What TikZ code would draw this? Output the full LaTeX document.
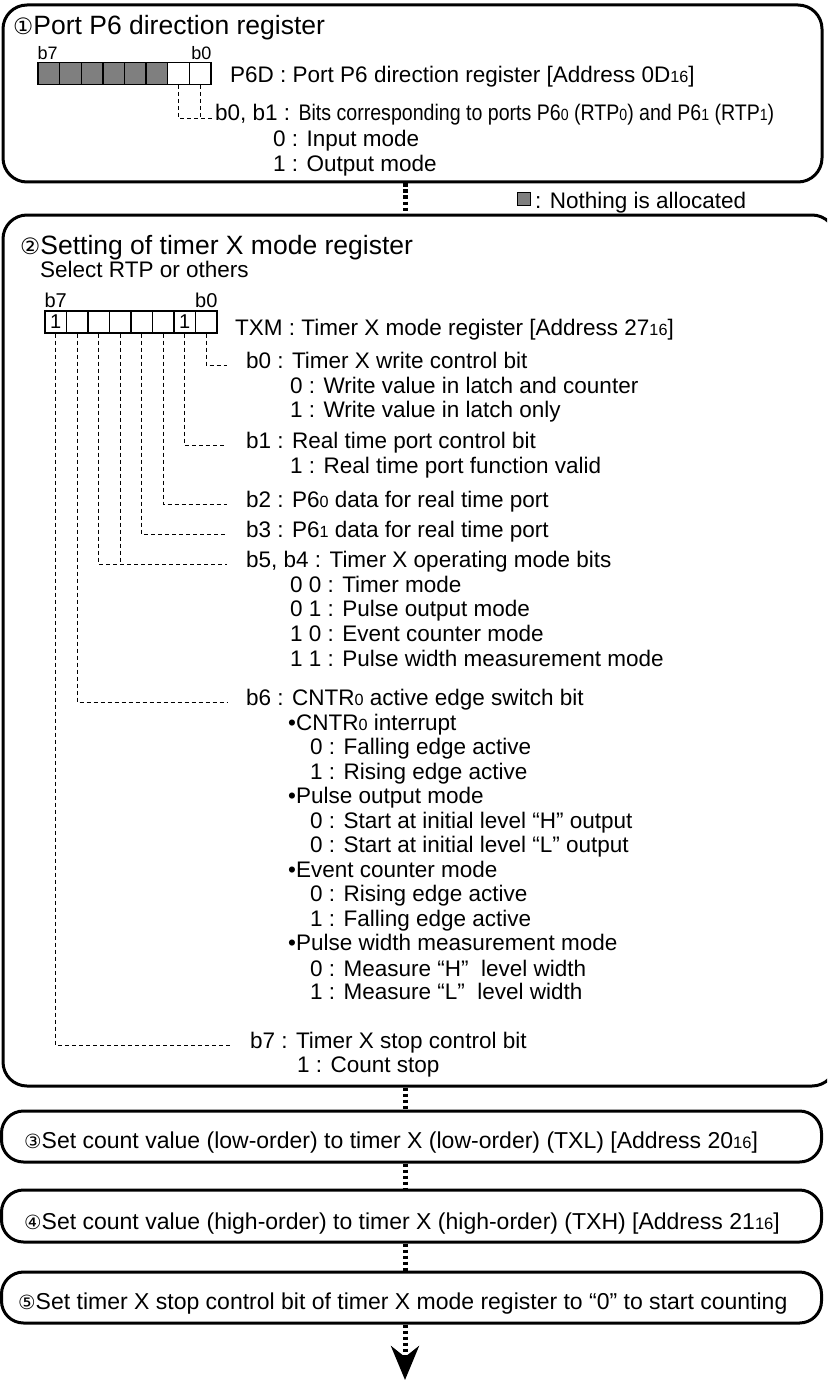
\documentclass[tikz,border=0pt]{standalone}
\usepackage{fontspec}
\usepackage{graphicx}
\setmainfont{Liberation Sans}
\newfontfamily\circfont{DejaVu Sans}
\usetikzlibrary{arrows.meta,positioning}
\definecolor{regGrey}{HTML}{7F7F7F}
\newcommand{\lo}[1]{{\edef\cursz{\the\dimexpr0.72\fontdimen6\font\relax}\fontsize{\cursz}{\cursz}\selectfont #1}}
\newcommand{\cnum}[1]{{\edef\cursz{\the\dimexpr0.85\fontdimen6\font\relax}\circfont\fontsize{\cursz}{\cursz}\selectfont #1}}

\begin{document}
\begin{tikzpicture}[x=1pt,y=-1pt,
  frame/.style={draw,line width=3pt,rounded corners=24pt,inner sep=0pt},
  stepbox/.style={draw,line width=3pt,rounded corners=22pt,minimum width=820pt,
            minimum height=51pt,inner sep=0pt},
  cell/.style={draw,line width=1.3pt,minimum width=21.6pt,minimum height=21.5pt,
            inner sep=0pt,font=\fontsize{20}{20}\selectfont},
  nil/.style={cell,fill=regGrey},
  txt/.style={anchor=base west,inner sep=0pt,font=\fontsize{22.5}{24}\selectfont},
  ttl/.style={anchor=base west,inner sep=0pt,font=\fontsize{26.5}{30}\selectfont},
  steptxt/.style={txt,font=\fontsize{23}{26}\selectfont},
  bitlbl/.style={inner sep=0pt,font=\fontsize{18}{18}\selectfont},
  lead/.style={line width=0.9pt,dash pattern=on 4pt off 3pt},
  flow/.style={line width=5pt,dash pattern=on 3.5pt off 2.5pt}]
\useasboundingbox (0,0) rectangle (827,1383);
\clip (0,0) rectangle (827,1383);
\node[frame,minimum width=819pt,minimum height=177pt] (box1) at (412.5,93.5) {};
\node[frame,minimum width=833pt,minimum height=871pt] (box2) at (419.5,650.5) {};
\node[stepbox] (box3) at (411.5,1136.5) {};
\node[stepbox,minimum height=52pt] (box4) at (411.5,1216) {};
\node[stepbox] (box5) at (411.5,1297.5) {};
\coordinate (axis) at (405,0);
\coordinate (tip) at (405,1380);
\draw[flow] (box1.south -| axis) -- (box2.north -| axis);
\draw[flow] (box2.south -| axis) -- (box3.north -| axis);
\draw[flow] (box3.south -| axis) -- (box4.north -| axis);
\draw[flow] (box4.south -| axis) -- (box5.north -| axis);
\draw[flow,-{Stealth[length=34pt,width=28pt,inset=11pt]}] (box5.south -| axis) -- (tip);

\node[draw,line width=1pt,fill=regGrey,minimum size=13pt,inner sep=0pt] (nilkey) at (524,199) {};
\node[txt] (nilnote) at (535,208) {: Nothing is allocated};

\node[ttl] (t1) at (13,35) {\cnum{①}Port P6 direction register};
\foreach \k/\s in {7/nil,6/nil,5/nil,4/nil,3/nil,2/nil,1/cell,0/cell}
  \node[\s] (pd\k) at ({38+21.625*(7.5-\k)},73.5) {};
\node[bitlbl,anchor=base west] (pdhi) at ([yshift=3pt]pd7.north west) {b7};
\node[bitlbl,anchor=base east] (pdlo) at ([yshift=3pt]pd0.north east) {b0};
\node[txt] (pdname) at (230,83) {P6D : Port P6 direction register [Address 0D\lo{16}]};
\node[txt] (pdbits) at (215,121) {b0, b1 : \scalebox{0.87}[1]{Bits corresponding to ports P6\lo{0} (RTP\lo{0}) and P6\lo{1} (RTP\lo{1})}};
\node[txt] (pdin) at (273,147) {0 : Input mode};
\node[txt] (pdout) at (273,172) {1 : Output mode};
\draw[lead] (pd1.south) |- ([xshift=-3pt]pdbits.mid west);
\draw[lead] (pd0.south) -- (pd0.south |- pdbits.mid west);

\node[ttl] (t2) at (20,254) {\cnum{②}Setting of timer X mode register};
\node[txt] (t2sub) at (40,277) {Select RTP or others};
\foreach \k/\v in {7/1,6/,5/,4/,3/,2/,1/1,0/}
  \node[cell,minimum width=21.5pt,minimum height=22pt] (xm\k) at ({45+21.5*(7.5-\k)},322) {\v};
\node[bitlbl,anchor=base west,font=\fontsize{20}{20}\selectfont] (xmhi) at ([yshift=3pt]xm7.north west) {b7};
\node[bitlbl,anchor=base east,font=\fontsize{20}{20}\selectfont] (xmlo) at ([yshift=3pt]xm0.north east) {b0};
\node[txt] (xmname) at (235,335) {TXM : Timer X mode register [Address 27\lo{16}]};
\node[txt] (xb0) at (246,368) {b0 : Timer X write control bit};
\node[txt] (xb0a) at (290,393) {0 : Write value in latch and counter};
\node[txt] (xb0b) at (290,417) {1 : Write value in latch only};
\node[txt] (xb1) at (246,448) {b1 : Real time port control bit};
\node[txt] (xb1a) at (290,473) {1 : Real time port function valid};
\node[txt] (xb2) at (246,507) {b2 : P6\lo{0} data for real time port};
\node[txt] (xb3) at (246,537) {b3 : P6\lo{1} data for real time port};
\node[txt] (xb54) at (246,567) {b5, b4 : Timer X operating mode bits};
\node[txt] (xb54a) at (290,592) {0 0 : Timer mode};
\node[txt] (xb54b) at (290,616) {0 1 : Pulse output mode};
\node[txt] (xb54c) at (290,641) {1 0 : Event counter mode};
\node[txt] (xb54d) at (290,666) {1 1 : Pulse width measurement mode};
\node[txt] (xb6) at (246,705) {b6 : CNTR\lo{0} active edge switch bit};
\node[txt] (xb6a) at (288,730) {\textbullet CNTR\lo{0} interrupt};
\node[txt] (xb6b) at (310,754) {0 : Falling edge active};
\node[txt] (xb6c) at (310,779) {1 : Rising edge active};
\node[txt] (xb6d) at (288,803) {\textbullet Pulse output mode};
\node[txt] (xb6e) at (310,828) {0 : Start at initial level “H” output};
\node[txt] (xb6f) at (310,852) {0 : Start at initial level “L” output};
\node[txt] (xb6g) at (288,877) {\textbullet Event counter mode};
\node[txt] (xb6h) at (310,901) {0 : Rising edge active};
\node[txt] (xb6i) at (310,926) {1 : Falling edge active};
\node[txt] (xb6j) at (288,950) {\textbullet Pulse width measurement mode};
\node[txt] (xb6k) at (310,976) {0 : Measure “H”\ \ level width};
\node[txt] (xb6l) at (310,999) {1 : Measure “L”\ \ level width};
\node[txt] (xb7) at (250,1048) {b7 : Timer X stop control bit};
\node[txt] (xb7a) at (297,1072) {1 : Count stop};
\draw[lead] (xm0.south) |- ([xshift=-19pt]xb0.mid west);
\draw[lead] (xm1.south) |- ([xshift=-19pt]xb1.mid west);
\draw[lead] (xm2.south) |- ([xshift=-19pt]xb2.mid west);
\draw[lead] (xm3.south) |- ([xshift=-19pt]xb3.mid west);
\draw[lead] (xm5.south) |- ([xshift=-19pt]xb54.mid west);
\draw[lead] (xm4.south) -- (xm4.south |- xb54.mid west);
\draw[lead] (xm6.south) |- ([xshift=-19pt]xb6.mid west);
\draw[lead] (xm7.south) |- ([xshift=-20pt]xb7.mid west);

\node[steptxt] (s3) at (24,1148) {\cnum{③}Set count value (low-order) to timer X (low-order) (TXL) [Address 20\lo{16}]};
\node[steptxt] (s4) at (24,1229) {\cnum{④}Set count value (high-order) to timer X (high-order) (TXH) [Address 21\lo{16}]};
\node[steptxt] (s5) at (18,1309) {\cnum{⑤}Set timer X stop control bit of timer X mode register to “0” to start counting};
\end{tikzpicture}
\end{document}
